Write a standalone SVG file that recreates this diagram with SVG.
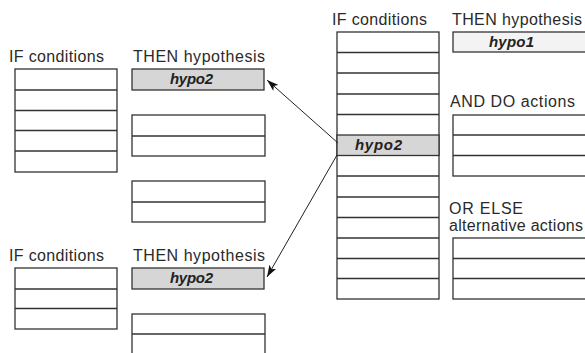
<svg xmlns="http://www.w3.org/2000/svg" width="585" height="353" viewBox="0 0 585 353">
<style>
.b{fill:#fff;stroke:#333;stroke-width:1.3}
.g{fill:#d6d6d6;stroke:#333;stroke-width:1.3}
.lg{fill:#f3f3f3;stroke:#333;stroke-width:1.3}
.l{stroke:#333;stroke-width:1.3}
.t{font-family:"Liberation Sans",Arial,sans-serif;font-size:16px;fill:#2a2a2a}
.h{font-family:"Liberation Sans",Arial,sans-serif;font-size:15px;font-weight:bold;font-style:italic;fill:#222}
.c{stroke:#222;stroke-width:1;fill:none}
</style>
<defs>
<marker id="ah" viewBox="0 0 12 8" refX="12" refY="4" markerWidth="12" markerHeight="8" markerUnits="userSpaceOnUse" orient="auto">
<path d="M0,0 L12,4 L0,8 L3,4 Z" fill="#111"/>
</marker>
</defs>
<rect width="585" height="353" fill="#fff"/>

<g id="left-top-if">
<text class="t" x="9" y="62" textLength="95">IF conditions</text>
<rect class="b" x="15" y="69" width="102" height="103"/>
<line class="l" x1="15" y1="90" x2="117" y2="90"/>
<line class="l" x1="15" y1="110.5" x2="117" y2="110.5"/>
<line class="l" x1="15" y1="130.5" x2="117" y2="130.5"/>
<line class="l" x1="15" y1="151" x2="117" y2="151"/>
</g>

<g id="left-top-then">
<text class="t" x="133" y="62" textLength="132">THEN hypothesis</text>
<rect class="g" x="132" y="69" width="132" height="21"/>
<text class="h" x="170" y="84" textLength="43">hypo2</text>
</g>

<g id="left-top-box2">
<rect class="b" x="132" y="115" width="133" height="41"/>
<line class="l" x1="132" y1="136" x2="265" y2="136"/>
</g>

<g id="left-top-box3">
<rect class="b" x="132" y="181" width="133" height="41"/>
<line class="l" x1="132" y1="202" x2="265" y2="202"/>
</g>

<g id="left-bottom-if">
<text class="t" x="9" y="261" textLength="95">IF conditions</text>
<rect class="b" x="15" y="268" width="102" height="61"/>
<line class="l" x1="15" y1="289" x2="117" y2="289"/>
<line class="l" x1="15" y1="308.5" x2="117" y2="308.5"/>
</g>

<g id="left-bottom-then">
<text class="t" x="133" y="261" textLength="132">THEN hypothesis</text>
<rect class="g" x="132" y="268" width="132" height="21"/>
<text class="h" x="170" y="283" textLength="43">hypo2</text>
</g>

<g id="left-bottom-box2">
<rect class="b" x="132" y="314" width="133" height="50"/>
<line class="l" x1="132" y1="334" x2="265" y2="334"/>
</g>

<g id="right-if">
<text class="t" x="332" y="25" textLength="95">IF conditions</text>
<rect class="b" x="337" y="32" width="102" height="267"/>
<rect class="g" x="337" y="135" width="102" height="20.5"/>
<line class="l" x1="337" y1="52.5" x2="439" y2="52.5"/>
<line class="l" x1="337" y1="73" x2="439" y2="73"/>
<line class="l" x1="337" y1="94" x2="439" y2="94"/>
<line class="l" x1="337" y1="114.5" x2="439" y2="114.5"/>
<line class="l" x1="337" y1="176" x2="439" y2="176"/>
<line class="l" x1="337" y1="197" x2="439" y2="197"/>
<line class="l" x1="337" y1="217.5" x2="439" y2="217.5"/>
<line class="l" x1="337" y1="238" x2="439" y2="238"/>
<line class="l" x1="337" y1="258.5" x2="439" y2="258.5"/>
<line class="l" x1="337" y1="278.5" x2="439" y2="278.5"/>
<text class="h" x="355" y="150" textLength="47">hypo2</text>
</g>

<g id="right-then">
<text class="t" x="452" y="25" textLength="130">THEN hypothesis</text>
<rect class="lg" x="453" y="32" width="140" height="20"/>
<text class="h" x="489" y="47" textLength="45">hypo1</text>
</g>

<g id="right-and-do">
<text class="t" x="450" y="107" textLength="125">AND DO actions</text>
<rect class="b" x="453" y="115" width="140" height="61"/>
<line class="l" x1="453" y1="135" x2="593" y2="135"/>
<line class="l" x1="453" y1="155.5" x2="593" y2="155.5"/>
</g>

<g id="right-or-else">
<text class="t" x="449" y="214" textLength="74">OR ELSE</text>
<text class="t" x="449" y="231" textLength="134">alternative actions</text>
<rect class="b" x="453" y="238" width="140" height="61"/>
<line class="l" x1="453" y1="258.5" x2="593" y2="258.5"/>
<line class="l" x1="453" y1="278.5" x2="593" y2="278.5"/>
</g>

<g id="connectors">
<line class="c" x1="338" y1="143" x2="267" y2="80" marker-end="url(#ah)"/>
<line class="c" x1="337" y1="155" x2="267" y2="277" marker-end="url(#ah)"/>
</g>
</svg>
